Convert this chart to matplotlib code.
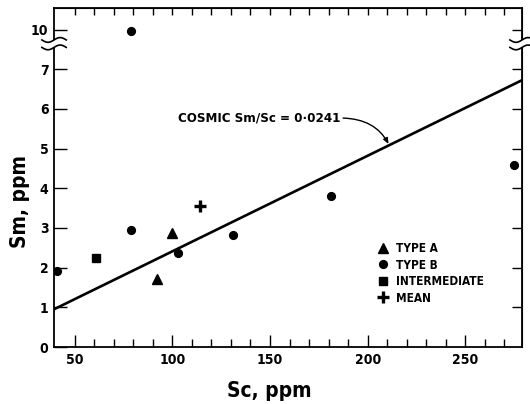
import numpy as np
import matplotlib
matplotlib.use('Agg')
import matplotlib.pyplot as plt
from matplotlib.lines import Line2D
from matplotlib.patches import Polygon

plt.rcParams['font.family'] = ['DejaVu Sans']
plt.rcParams['font.stretch'] = 'condensed'

# Sc, Sm (ppm)
type_a_sc = [92, 100]
type_a_sm = [1.72, 2.88]
type_b_sc = [41, 79, 79, 103, 131, 181, 275]
type_b_sm = [1.91, 2.95, 9.95, 2.38, 2.82, 3.80, 4.58]
inter_sc = [61]
inter_sm = [2.25]
mean_sc = [114]
mean_sm = [3.55]

cosmic_ratio = 0.0241
ytick_vals = [0, 1, 2, 3, 4, 5, 6, 7, 10]


def brk(v):
    # broken y axis: values above the break are shifted down by 2
    v = np.asarray(v, dtype=float)
    return np.where(v > 7.6, v - 2, v)


fig = plt.figure(figsize=(5.3, 4.04), dpi=100)
ax = fig.add_axes([0.102, 0.141, 0.883, 0.839])

sc_line = np.array([39.5, 279])
ax.plot(sc_line, cosmic_ratio * sc_line, color='black', lw=1.9, zorder=2)

ax.plot(type_a_sc, brk(type_a_sm), '^', color='black', ms=6.5, ls='none', label='TYPE A')
ax.plot(type_b_sc, brk(type_b_sm), 'o', color='black', ms=5.6, ls='none', label='TYPE B')
ax.plot(inter_sc, brk(inter_sm), 's', color='black', ms=5.4, ls='none', label='INTERMEDIATE')
ax.plot(mean_sc, brk(mean_sm), '+', color='black', ms=8, mew=2.4, ls='none', label='MEAN')

ax.set_xlim(39.5, 279)
ax.set_ylim(0, 8.54)

ax.set_xticks([50, 100, 150, 200, 250])
ax.set_xticks(np.arange(60, 280, 10), minor=True)
ax.set_yticks(brk(ytick_vals))
ax.set_yticklabels([str(v) for v in ytick_vals])
ax.tick_params(axis='x', which='major', direction='in', length=8.5, width=1, labelsize=10, pad=4)
ax.tick_params(axis='x', which='minor', direction='in', length=5.5, width=1)
ax.tick_params(axis='y', which='major', direction='in', length=9, width=1, labelsize=10, pad=4)
for lab in ax.get_xticklabels() + ax.get_yticklabels():
    lab.set_fontweight('bold')
for s in ax.spines.values():
    s.set_linewidth(1.3)

top = ax.secondary_xaxis('top')
top.set_xticks(np.arange(50, 280, 10))
top.tick_params(direction='in', length=5, width=1, labelbottom=False, labeltop=False)
right = ax.secondary_yaxis('right')
right.set_yticks(brk([1, 2, 3, 4, 5, 6, 7, 10]))
right.tick_params(direction='in', length=7, width=1, labelleft=False, labelright=False)

ax.set_xlabel('Sc, ppm', fontsize=15, fontweight='bold')
ax.set_ylabel('Sm, ppm', fontsize=15, fontweight='bold')
ax.xaxis.set_label_coords(0.46, -0.10)
ax.yaxis.set_label_coords(-0.052, 0.43)

ax.annotate('COSMIC Sm/Sc = 0·0241', xy=(211, cosmic_ratio * 211), xytext=(186, 5.77),
            ha='right', va='center', fontsize=9.5, fontweight='bold',
            arrowprops=dict(arrowstyle='-|>,head_length=0.35,head_width=0.15', color='black',
                            lw=1, relpos=(1, 0.5), shrinkA=0, shrinkB=1,
                            connectionstyle='angle3,angleA=0,angleB=-63'))

ax.legend(loc='upper left', bbox_to_anchor=(0.691, 0.31), frameon=False,
          prop={'size': 8.5, 'weight': 'bold'},
          handlelength=1, handletextpad=0.6, labelspacing=0.3, borderpad=0, borderaxespad=0)

# axis break marks on both spines
t = np.linspace(-1, 1, 30)
for x0 in (0, 1):
    xs = x0 + 0.026 * t
    y_hi = 0.906 + 0.007 * np.sin(np.pi * t)
    y_lo = 0.884 + 0.007 * np.sin(np.pi * t)
    poly = np.column_stack([np.r_[xs, xs[::-1]], np.r_[y_hi, y_lo[::-1]]])
    fig.add_artist(Polygon(poly, closed=True, facecolor='white', edgecolor='none',
                           transform=ax.transAxes, zorder=5))
    fig.add_artist(Line2D(xs, y_hi, color='black', lw=1.2, transform=ax.transAxes, zorder=6))
    fig.add_artist(Line2D(xs, y_lo, color='black', lw=1.2, transform=ax.transAxes, zorder=6))

fig.savefig('out.png', dpi=100)
